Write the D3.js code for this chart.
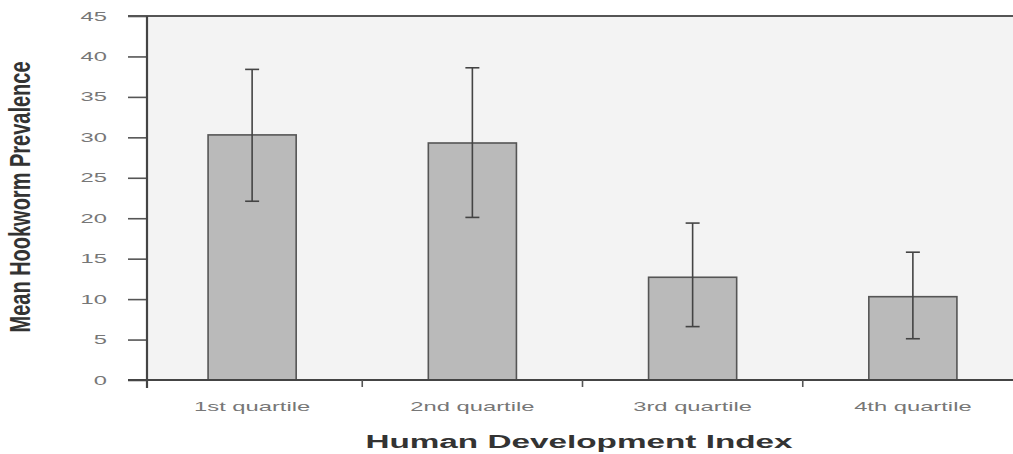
<!DOCTYPE html>
<html>
<head>
<meta charset="utf-8">
<script src="https://cdn.jsdelivr.net/npm/d3@7"></script>
<style>
  body { margin: 0; background: #fff; }
  text { font-family: "Liberation Sans", Arial, sans-serif; }
</style>
</head>
<body>
<div id="chart"></div>
<script>
const categories = ["1st quartile", "2nd quartile", "3rd quartile", "4th quartile"]
const means = [30.3, 29.3, 12.7, 10.3]
const upper = [38.4, 38.6, 19.4, 15.8]
const lower = [22.1, 20.1, 6.6, 5.1]
const yTicks = [0, 5, 10, 15, 20, 25, 30, 35, 40, 45]

const width = 1013, height = 454
const stretch = 1.9 // the source picture is squeezed wide, text too

const data = categories.map((c, i) => ({ cat: c, mean: means[i], hi: upper[i], lo: lower[i] }))

const svg = d3.select("#chart").append("svg")
  .attr("width", width)
  .attr("height", height)

const x = d3.scaleBand()
  .domain(categories)
  .range([142, 1023])
  .paddingInner(0.6)
  .paddingOuter(0.3)

const y = d3.scaleLinear()
  .domain([0, 45])
  .range([380, 16])

// plot background
svg.append("rect")
  .attr("x", 147).attr("y", y(45))
  .attr("width", width - 147).attr("height", y(0) - y(45))
  .attr("fill", "#f3f3f3")

// top border
svg.append("line")
  .attr("x1", 128).attr("x2", width)
  .attr("y1", y(45)).attr("y2", y(45))
  .attr("stroke", "#555").attr("stroke-width", 2.2)

// bars
svg.selectAll(".bar")
  .data(data)
  .join("rect")
  .attr("class", "bar")
  .attr("x", d => x(d.cat))
  .attr("y", d => y(d.mean))
  .attr("width", x.bandwidth())
  .attr("height", d => y(0) - y(d.mean))
  .attr("fill", "#bababa")
  .attr("stroke", "#555")
  .attr("stroke-width", 1.6)

// error bars
const cx = d => x(d.cat) + x.bandwidth() / 2
const err = svg.append("g").attr("stroke", "#444").attr("stroke-width", 1.6)
err.selectAll(".stem").data(data).join("line")
  .attr("x1", cx).attr("x2", cx)
  .attr("y1", d => y(d.hi)).attr("y2", d => y(d.lo))
err.selectAll(".capHi").data(data).join("line")
  .attr("x1", d => cx(d) - 7).attr("x2", d => cx(d) + 7)
  .attr("y1", d => y(d.hi)).attr("y2", d => y(d.hi))
err.selectAll(".capLo").data(data).join("line")
  .attr("x1", d => cx(d) - 7).attr("x2", d => cx(d) + 7)
  .attr("y1", d => y(d.lo)).attr("y2", d => y(d.lo))

// y axis
const yAxis = svg.append("g")
  .attr("transform", "translate(147,0)")
  .call(d3.axisLeft(y).tickValues(yTicks).tickSize(19).tickSizeOuter(0))
yAxis.select(".domain").remove()
yAxis.selectAll(".tick line").attr("stroke", "#555").attr("stroke-width", 1.6)
yAxis.selectAll(".tick text")
  .attr("x", 0)
  .attr("transform", `translate(-40,0) scale(${stretch},1)`)
  .attr("fill", "#777")
  .style("font-size", "12.5px")
svg.append("line")
  .attr("x1", 147).attr("x2", 147)
  .attr("y1", y(45)).attr("y2", 388)
  .attr("stroke", "#444").attr("stroke-width", 2.2)

// x axis
svg.append("line")
  .attr("x1", 128).attr("x2", width)
  .attr("y1", y(0)).attr("y2", y(0))
  .attr("stroke", "#444").attr("stroke-width", 2.2)
const gap = x.step() - x.bandwidth()
svg.selectAll(".xsep")
  .data(categories.slice(1))
  .join("line")
  .attr("x1", d => x(d) - gap / 2).attr("x2", d => x(d) - gap / 2)
  .attr("y1", y(0)).attr("y2", y(0) + 7)
  .attr("stroke", "#555").attr("stroke-width", 1.6)
svg.selectAll(".xlab")
  .data(categories)
  .join("text")
  .attr("transform", d => `translate(${x(d) + x.bandwidth() / 2},411) scale(${stretch},1)`)
  .attr("text-anchor", "middle")
  .attr("fill", "#777")
  .style("font-size", "12.5px")
  .text(d => d)

// titles
svg.append("text")
  .attr("transform", `translate(579,448) scale(1.85,1)`)
  .attr("text-anchor", "middle")
  .attr("fill", "#333")
  .style("font-size", "18px")
  .style("font-weight", "bold")
  .text("Human Development Index")

svg.append("text")
  .attr("transform", `translate(30,197) scale(1.45,1) rotate(-90)`)
  .attr("text-anchor", "middle")
  .attr("fill", "#333")
  .style("font-size", "20px")
  .style("font-weight", "bold")
  .text("Mean Hookworm Prevalence")
</script>
</body>
</html>
